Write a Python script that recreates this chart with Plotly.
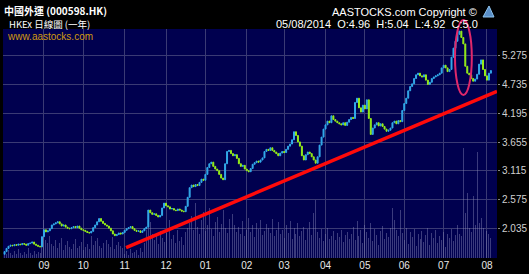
import plotly.graph_objects as go
import pandas as pd

# ---------------- data ----------------
title_cn = "中國外運 (000598.HK)"
subtitle_cn = "HKEx 日線圖 (一年)"
copyright_txt = "AASTOCKS.com Copyright ©"
quote_txt = "05/08/2014\u00a0\u00a0O:4.96\u00a0\u00a0H:5.04\u00a0\u00a0L:4.92\u00a0\u00a0C:5.0"
site_txt = "www.aastocks.com"

hk_holidays = ["2013-09-20", "2013-10-01", "2013-10-14", "2013-12-25", "2013-12-26",
               "2014-01-01", "2014-01-31", "2014-02-03", "2014-04-18", "2014-04-21",
               "2014-05-01", "2014-05-06", "2014-06-02", "2014-07-01"]

first_open = 1.55
close = [
    1.60, 1.66, 1.70, 1.72, 1.71, 1.73, 1.72, 1.74, 1.73, 1.75,
    1.74, 1.72, 1.75, 1.76, 1.78, 1.74, 1.72, 1.70, 1.69, 1.88,
    2.01, 1.97, 1.99, 2.03, 2.10, 2.12, 2.14, 2.16, 2.12, 2.08,
    2.10, 2.06, 2.04, 2.03, 2.05, 2.07, 2.05, 2.08, 2.04, 2.01,
    2.00, 1.98, 1.96, 1.95, 1.98, 2.05, 2.10, 2.16, 2.22, 2.17,
    2.13, 2.10, 2.08, 2.04, 1.99, 1.93, 1.90, 1.92, 1.95, 1.93,
    1.96, 2.00, 2.03, 2.05, 2.07, 2.03, 2.00, 1.98, 1.99, 1.96,
    1.99, 2.03, 2.06, 2.38, 2.33, 2.30, 2.31, 2.28, 2.25, 2.28,
    2.42, 2.51, 2.46, 2.44, 2.40, 2.41, 2.38, 2.37, 2.40, 2.38,
    2.36, 2.35, 2.45, 2.62, 2.80, 2.85, 2.82, 2.86, 2.84, 2.90,
    2.96, 2.94, 3.05, 3.18, 3.25, 3.28, 3.20, 3.15, 3.12, 3.05,
    2.98, 2.95, 3.25, 3.48, 3.50, 3.44, 3.40, 3.42, 3.35, 3.25,
    3.20, 3.22, 3.15, 3.12, 3.10, 3.16, 3.24, 3.27, 3.30, 3.28,
    3.32, 3.36, 3.48, 3.52, 3.50, 3.55, 3.50, 3.47, 3.44, 3.40,
    3.45, 3.48, 3.46, 3.52, 3.58, 3.62, 3.70, 3.85, 3.78, 3.66,
    3.58, 3.40, 3.32, 3.42, 3.47, 3.44, 3.38, 3.32, 3.26, 3.38,
    3.60, 3.75, 3.90, 3.98, 4.05, 4.02, 4.15, 4.08, 4.05, 4.02,
    4.00, 3.98, 4.02, 3.97, 4.03, 4.08, 4.12, 4.10, 4.40, 4.48,
    4.30, 4.22, 4.35, 4.28, 4.45, 4.10, 3.80, 3.92, 3.98, 4.02,
    3.96, 4.00, 3.95, 3.90, 3.86, 3.88, 3.92, 4.02, 4.05, 4.00,
    4.06, 4.04, 4.25, 4.38, 4.48, 4.62, 4.70, 4.75, 4.85, 4.92,
    4.95, 4.90, 4.88, 4.92, 4.82, 4.74, 4.78, 4.85, 4.88, 4.90,
    4.92, 4.95, 5.05, 5.10, 5.05, 4.98, 5.02, 5.25, 5.42, 5.55,
    5.68, 5.74, 5.62, 5.50, 5.08, 4.95, 4.92, 4.85, 4.80, 4.84,
    4.93, 5.12, 5.20, 5.02, 4.90, 4.82, 4.95, 5.00,
]

volume = [
    6, 4, 8, 5, 3, 7, 4, 9, 5, 3, 6, 4, 10, 5, 3, 7, 4, 6, 5,
    20, 38, 18, 15, 22, 14,
    12, 18, 10, 15, 20, 8, 13, 17, 11, 9, 14, 19, 10, 12, 16, 8,
    11, 14, 9, 22, 13, 17, 20, 12, 10, 15, 8, 18, 14, 11, 21, 9, 13, 16, 12, 10,
    4, 7, 3, 9, 5, 6, 8, 3, 10, 6,
    15, 28, 43, 36, 24,
    18, 22, 14, 27, 20, 16, 25, 12, 38, 19, 23, 15, 28, 17, 21, 13, 26, 30,
    35, 42, 28, 55, 31, 24, 38, 46, 27, 33, 50, 29, 22, 36, 41, 26, 34, 48, 30, 25, 39, 28, 44, 33, 26,
    31, 24, 37, 22, 28, 40, 26, 33, 21, 35, 29, 38, 23, 27, 34, 30, 25, 39, 22, 28, 36, 24,
    28, 20, 33, 25, 37, 19, 30, 24, 35, 22, 27, 31, 18, 29, 36, 23,
    45, 58,
    26, 20, 29, 17, 24, 30, 19, 22, 27, 18, 25, 21, 28, 16, 23, 26, 19,
    24, 31, 18, 37, 22, 28, 15, 33, 26, 20, 35, 17, 29, 23, 13, 27, 32, 19, 25, 21, 30,
    50, 38,
    28, 22, 48, 25, 18, 30, 14, 26, 21, 29, 12, 24, 19, 27, 16, 23, 30, 13, 25, 20, 28, 15, 22, 18, 26, 11, 24, 20, 29, 17, 23, 33,
    24, 22, 110, 45, 65, 30, 26, 62, 33, 106, 35, 40, 30, 32, 27, 24, 20,
]

y_ticks = [2.035, 2.575, 3.115, 3.655, 4.195, 4.735, 5.275]
y_range = [1.48, 5.78]
vol_range = [0, 229]

# support line (trading-day index, price) and highlight ellipse (paper coords)
trend_x = [61.7, 250.1]
trend_y = [1.675, 4.61]
ellipse_box = dict(x0=0.915, x1=0.949, y0=0.712, y1=1.039)

# ---------------- derived ----------------
dates = [d for d in pd.bdate_range("2013-08-05", "2014-08-05")
         if d.strftime("%Y-%m-%d") not in hk_holidays]
n = min(len(dates), len(close))
dates = dates[:n]
close = close[:n]
idx = list(range(n))
opens = [first_open] + close[:-1]
highs = [max(o, c) for o, c in zip(opens, close)]
lows = [min(o, c) for o, c in zip(opens, close)]

tickvals, ticktext = [], []
for i in range(1, n):
    if dates[i].month != dates[i - 1].month:
        tickvals.append(i)
        ticktext.append(dates[i].strftime("%m"))

BG = "#00004f"
GRID = "#3a3a74"

fig = go.Figure()
fig.add_trace(go.Bar(x=idx, y=volume[:n], yaxis="y", width=0.5,
                     marker=dict(color="rgba(140,140,190,0.42)", line=dict(width=0)),
                     hoverinfo="skip", showlegend=False))
fig.add_trace(go.Candlestick(x=idx, open=opens, high=highs, low=lows, close=close,
                             yaxis="y2", whiskerwidth=0,
                             increasing=dict(line=dict(color="#33aaea", width=1), fillcolor="#33aaea"),
                             decreasing=dict(line=dict(color="#96ee18", width=1), fillcolor="#96ee18"),
                             showlegend=False))
fig.add_trace(go.Scatter(x=trend_x, y=trend_y, yaxis="y2", mode="lines",
                         line=dict(color="#ff0a0a", width=3.5), showlegend=False))

def px_x(p):
    return (p - 3) / 494.0

def px_y(p):
    return (258 - p) / 229.0

ann = [
    dict(text="<b>" + title_cn + "</b>", x=px_x(3), y=px_y(10.5), xanchor="left", yanchor="middle",
         font=dict(family="Noto Sans CJK TC, Liberation Sans", size=10, color="white")),
    dict(text=subtitle_cn, x=px_x(8), y=px_y(23.5), xanchor="left", yanchor="middle",
         font=dict(family="Noto Sans CJK TC, Liberation Sans", size=9.5, color="white")),
    dict(text=copyright_txt, x=px_x(478), y=px_y(12), xanchor="right", yanchor="middle",
         font=dict(family="Liberation Sans, Arial", size=11, color="white")),
    dict(text=quote_txt, x=px_x(479), y=px_y(24), xanchor="right", yanchor="middle",
         font=dict(family="Liberation Sans, Arial", size=11, color="white")),
    dict(text=site_txt, x=px_x(6), y=px_y(36.5), xanchor="left", yanchor="middle",
         font=dict(family="Liberation Sans, Arial", size=10, color="#d09a10")),
]
for a in ann:
    a.update(xref="paper", yref="paper", showarrow=False, borderpad=0)

shapes = [
    dict(type="circle", xref="paper", yref="paper", line=dict(color="#e0286a", width=2),
         **ellipse_box),
    # small logo
    dict(type="path", xref="paper", yref="paper",
         path="M %f %f L %f %f L %f %f Z" % (px_x(483), px_y(17), px_x(489), px_y(6), px_x(494), px_y(17)),
         line=dict(color="#8fc4ee", width=1), fillcolor="#5a8fc8"),
]

fig.update_layout(
    width=529, height=274,
    margin=dict(l=3, r=32, t=29, b=16),
    paper_bgcolor="black", plot_bgcolor=BG,
    bargap=0,
    annotations=ann, shapes=shapes,
    xaxis=dict(range=[-0.8, 250.1], tickvals=tickvals, ticktext=ticktext,
               showgrid=True, gridcolor=GRID, gridwidth=1, zeroline=False,
               showline=False, ticks="", rangeslider=dict(visible=False),
               tickfont=dict(family="Liberation Sans, Arial", size=10, color="#e8e8e8")),
    yaxis=dict(range=vol_range, visible=False, showgrid=False, fixedrange=True),
    yaxis2=dict(range=y_range, overlaying="y", side="right", tickvals=y_ticks,
                ticktext=["%.3f" % v for v in y_ticks],
                showgrid=True, gridcolor=GRID, gridwidth=1, zeroline=False,
                ticks="outside", ticklen=2, tickcolor="#888888",
                tickfont=dict(family="Liberation Sans, Arial", size=10, color="#d0d0d0")),
    hovermode=False,
)

fig.write_html("out.html")
